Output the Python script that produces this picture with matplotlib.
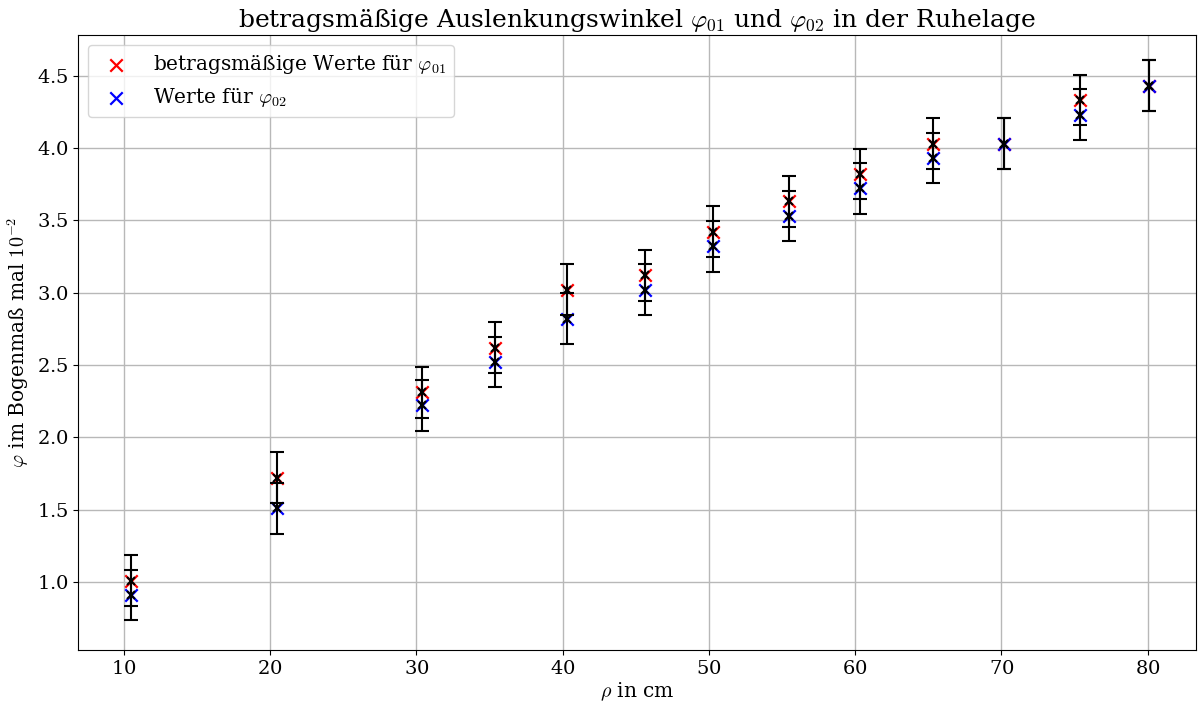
import matplotlib
matplotlib.use("Agg")
import matplotlib.pyplot as plt

plt.rcParams['font.family'] = 'DejaVu Serif'
plt.rcParams['mathtext.fontset'] = 'cm'
plt.rcParams['axes.formatter.use_mathtext'] = True

rho = [10.5, 20.45, 30.35, 35.35, 40.3, 45.6, 50.25, 55.45, 60.3, 65.35, 70.15, 75.35, 80.1]
phi01 = [1.01, 1.72, 2.31, 2.62, 3.02, 3.12, 3.42, 3.63, 3.82, 4.03, 4.03, 4.33, 4.43]
phi02 = [0.91, 1.51, 2.22, 2.52, 2.82, 3.02, 3.32, 3.53, 3.72, 3.93, 4.03, 4.23, 4.43]
err = 0.175

fig = plt.figure(figsize=(11.98, 7.03), dpi=100)
ax = fig.add_axes([78/1198, 1-650/703, (1196-78)/1198, (650-35)/703])

ax.scatter(rho, phi01, marker='x', color='red', s=80, linewidths=1.6,
           label=r'betragsmäßige Werte für $\varphi_{01}$', zorder=3)
ax.scatter(rho, phi02, marker='x', color='blue', s=80, linewidths=1.6,
           label=r'Werte für $\varphi_{02}$', zorder=3)
for ys in (phi01, phi02):
    ax.errorbar(rho, ys, yerr=err, fmt='x', color='k', ms=6, mew=1.5, capsize=4.7,
                elinewidth=1.5, capthick=1.5, zorder=4)

ax.set_xlim(6.86, 83.3)
ax.set_ylim(0.53, 4.78)
ax.set_xticks([10, 20, 30, 40, 50, 60, 70, 80])
ax.set_yticks([1.0, 1.5, 2.0, 2.5, 3.0, 3.5, 4.0, 4.5])
ax.tick_params(labelsize=14)
ax.grid(True, color='#b8b8b8', linewidth=1)
ax.set_axisbelow(True)
ax.set_xlabel(r'$\rho$ in cm', fontsize=14.5, labelpad=2)
ax.set_ylabel(r'$\varphi$ im Bogenmaß mal $10^{-2}$', fontsize=14.5)
ax.set_title(r'betragsmäßige Auslenkungswinkel $\varphi_{01}$ und $\varphi_{02}$ in der Ruhelage', fontsize=18)
ax.legend(loc='upper left', fontsize=14.5)

fig.savefig('out.png', dpi=100)
